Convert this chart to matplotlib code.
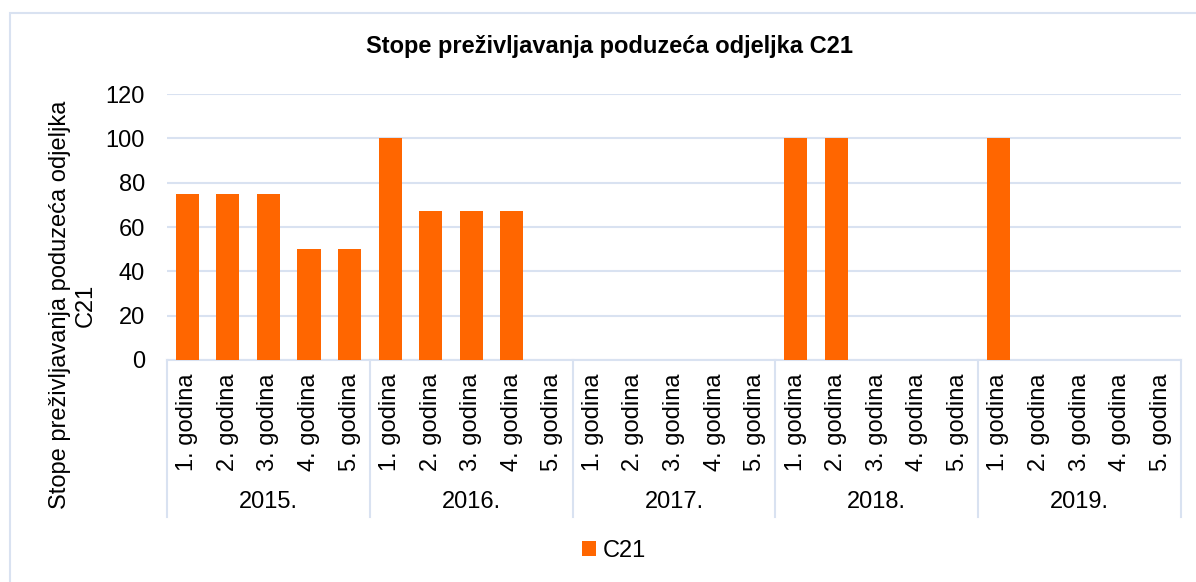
import matplotlib
matplotlib.use('Agg')
import matplotlib.pyplot as plt
from matplotlib.patches import Rectangle
import matplotlib.transforms as mtransforms

plt.rcParams['font.family'] = ['Liberation Sans', 'DejaVu Sans']

# survival rates by founding year and year of survival
years = ['2015.', '2016.', '2017.', '2018.', '2019.']
godine = ['1. godina', '2. godina', '3. godina', '4. godina', '5. godina']
c21 = [75, 75, 75, 50, 50,
       100, 67, 67, 67, 0,
       0, 0, 0, 0, 0,
       100, 100, 0, 0, 0,
       100, 0, 0, 0, 0]
yticks = [0, 20, 40, 60, 80, 100, 120]

W, H = 1196, 582
fig = plt.figure(figsize=(W / 100, H / 100), dpi=100)
line_col = '#D9E2F1'
bar_col = '#FF6600'

# chart frame
fig.patches.append(Rectangle((10 / W, -0.1), 1.2, 1 - 13 / H + 0.1, transform=fig.transFigure,
                             fill=False, edgecolor=line_col, linewidth=1.5))

ax = fig.add_axes([167 / W, 1 - 360 / H, (1181 - 167) / W, (360 - 94) / H])
labels = [g for y in years for g in godine]
x = list(range(len(labels)))
ax.bar(x, c21, width=0.57, color=bar_col, zorder=3, label='C21')

ax.set_xlim(-0.5, len(labels) - 0.5)
ax.set_ylim(0, 120)
ax.set_yticks(yticks)
ax.tick_params(axis='y', length=0, labelsize=17, pad=16)
ax.set_xticks(x)
ax.set_xticklabels(labels, rotation=90, fontsize=17)
ax.tick_params(axis='x', length=0, pad=10)
ax.grid(axis='y', color=line_col, linewidth=1.5, zorder=0)
for s in ['left', 'right', 'top']:
    ax.spines[s].set_visible(False)
ax.spines['bottom'].set_color(line_col)
ax.spines['bottom'].set_linewidth(1.5)

# year groups under the category labels
trans = mtransforms.blended_transform_factory(ax.transData, ax.transAxes)
for i in range(len(years) + 1):
    ax.plot([i * 5 - 0.5, i * 5 - 0.5], [0, -0.59], transform=trans, color=line_col,
            linewidth=1.5, clip_on=False)
for i, yr in enumerate(years):
    ax.text(i * 5 + 2, -0.534, yr, transform=trans, ha='center', va='center', fontsize=17)

ax.set_ylabel('Stope preživljavanja poduzeća odjeljka\nC21', fontsize=17, linespacing=1.25)
ax.yaxis.set_label_coords(-0.069, (360 - 305) / 266)

fig.text(610 / W, 1 - 47 / H, 'Stope preživljavanja poduzeća odjeljka C21', ha='center', va='center',
         fontsize=17, fontweight='bold')

fig.legend(loc='center', bbox_to_anchor=(614 / W, 1 - 551 / H), frameon=False, fontsize=17,
           handlelength=0.6, handleheight=0.6, handletextpad=0.3)

fig.savefig('out.png', dpi=100)
